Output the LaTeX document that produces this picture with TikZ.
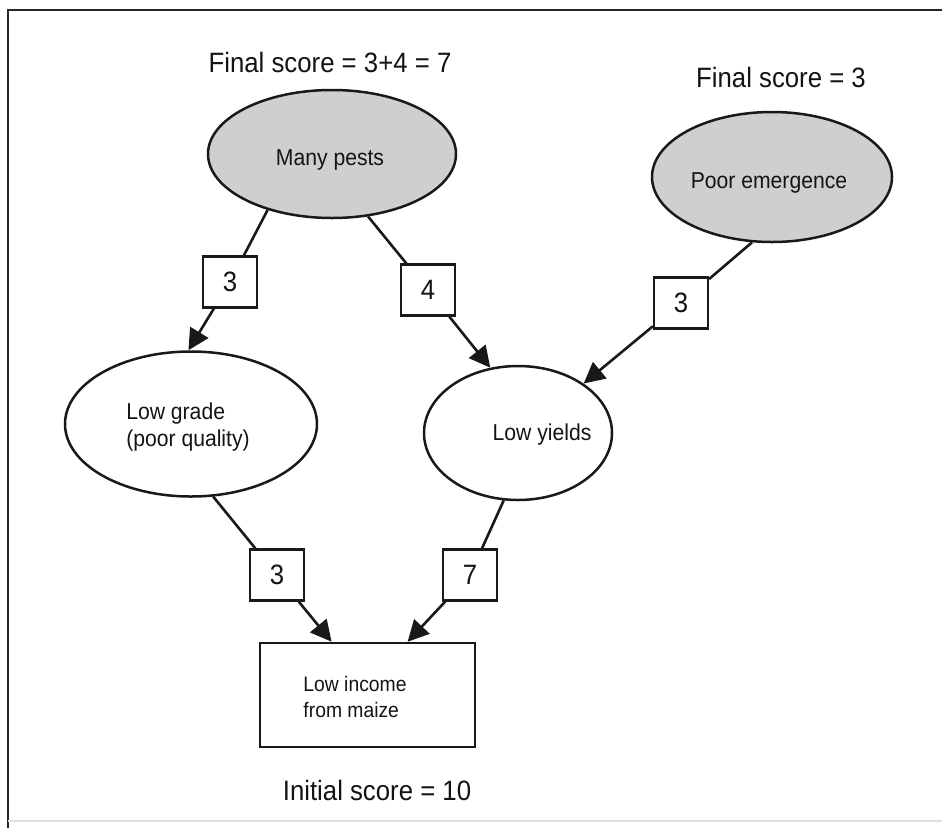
\documentclass[tikz,border=0pt]{standalone}
\usepackage{fontspec}
\setmainfont{Liberation Sans}[FakeStretch=0.92]
\usetikzlibrary{shapes.geometric,arrows.meta}
\begin{document}
\begin{tikzpicture}[x=1pt,y=-1pt,
  cause/.style={ellipse, draw=black!90, line width=2.5pt, inner sep=0pt,
    text=black!92, font=\fontsize{23}{27}\selectfont},
  pest/.style={cause, fill=black!19},
  outcome/.style={rectangle, draw=black!90, line width=2.5pt, inner sep=0pt},
  score/.style={rectangle, draw=black!90, line width=2.2pt, fill=white,
    minimum width=54pt, minimum height=51pt, inner sep=0pt,
    text=black!92, font=\fontsize{28}{32}\selectfont},
  words/.style={inner sep=0pt, text=black!92, align=left},
  caption/.style={inner sep=0pt, text=black!92, font=\fontsize{28}{32}\selectfont},
  link/.style={draw=black!90, line width=2.6pt},
  arr/.style={link, -{Triangle[length=21pt,width=21pt]}}
]
% page and frame
\fill[white] (0,0) rectangle (942,828);
\useasboundingbox (0,0) rectangle (942,828);
\draw[line width=2.5pt, black!85] (8,828) -- (8,10) -- (942,10);
\draw[line width=1.5pt, black!12] (8,821) -- (942,821);

% captions
\node[caption] (fsleft) at (330,62) {Final score = 3+4 = 7};
\node[caption] (fsright) at (781,77) {Final score = 3};
\node[caption] (initial) at (377,790) {Initial score = 10};

% causes
\node[pest, minimum width=248pt, minimum height=128pt] (pests) at (332,154) {};
\node[words, font=\fontsize{23}{27}\selectfont] (peststxt) at (330,160) {Many pests};
\node[pest, minimum width=240pt, minimum height=130pt] (poor) at (772,177) {};
\node[words, font=\fontsize{23}{27}\selectfont] (poortxt) at (769,183) {Poor emergence};
\node[cause, minimum width=252pt, minimum height=145pt] (grade) at (191,424) {};
\node[words, font=\fontsize{23}{27}\selectfont] (gradetxt) at (188,427) {Low grade\\(poor quality)};
\node[cause, minimum width=188pt, minimum height=134pt] (yields) at (518,433) {};
\node[words, font=\fontsize{23}{27}\selectfont] (yieldstxt) at (542,435) {Low yields};

% outcome
\node[outcome, minimum width=215pt, minimum height=104pt] (income) at (367.5,695) {};
\node[words, font=\fontsize{21}{26}\selectfont] (incometxt) at (355,697) {Low income\\from maize};

% weights
\node[score] (w1) at (230,282) {3};
\node[score] (w2) at (428,290) {4};
\node[score] (w3) at (681,303) {3};
\node[score] (w4) at (277,575) {3};
\node[score] (w5) at (470,575) {7};

% links
\draw[link] (pests.221) -- (w1);
\draw[arr] (w1) -- (grade.92);
\draw[link] (pests.300) -- (w2);
\draw[arr] (w2) -- (yields.113);
\draw[link] (poor.253) -- (w3);
\draw[arr] (w3) -- (yields.37);
\draw[link] (grade.287) -- (w4);
\draw[arr] (w4) -- (income.124);
\draw[link] (yields.258) -- (w5);
\draw[arr] (w5) -- (income.53);
\end{tikzpicture}
\end{document}
